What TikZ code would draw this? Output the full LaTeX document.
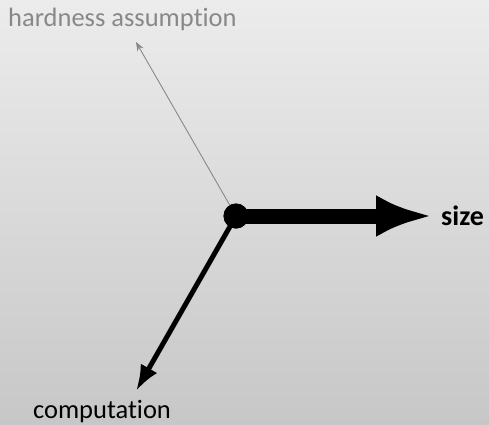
\documentclass[tikz,border=0pt]{standalone}
\usepackage{fontspec}
\setmainfont[Ligatures={NoCommon}]{Carlito}
\usetikzlibrary{arrows.meta}
\definecolor{bgtop}{RGB}{236,236,236}
\definecolor{bgbot}{RGB}{199,199,199}
\definecolor{faint}{RGB}{136,136,136}
\tikzset{
  lbl/.style={inner sep=0pt, font=\fontsize{26.5}{30}\selectfont},
  hub/.style={circle, fill=black, minimum size=25pt, inner sep=0pt},
}
\begin{document}
\begin{tikzpicture}[x=1pt,y=-1pt]
\shade[top color=bgtop, bottom color=bgbot] (0,0) rectangle (489,424);
\useasboundingbox (0,0) rectangle (489,424);
\node[hub] (o) at (236,216) {};
\node[lbl, text=faint, anchor=base west] (hard) at (8,26) {hardness assumption};
\node[lbl, font=\fontsize{28}{30}\selectfont\bfseries, anchor=base west] (size) at (441,225) {size};
\node[lbl, anchor=base] (comp) at (102,418) {computation};
\coordinate (htip) at (136,42);
\coordinate (stip) at (432,216);
\coordinate (ctip) at (136,391);
\draw[faint, line width=0.9pt, -{Stealth[length=9pt,width=7pt]}] (o.center) -- (htip);
\draw[line width=5pt, -{Latex[length=26pt,width=19pt]}] (o.center) -- (ctip);
\draw[line width=15pt, -{Latex[length=56pt,width=42pt]}] (o.center) -- (stip);
\node[hub] at (o) {};
\end{tikzpicture}
\end{document}
